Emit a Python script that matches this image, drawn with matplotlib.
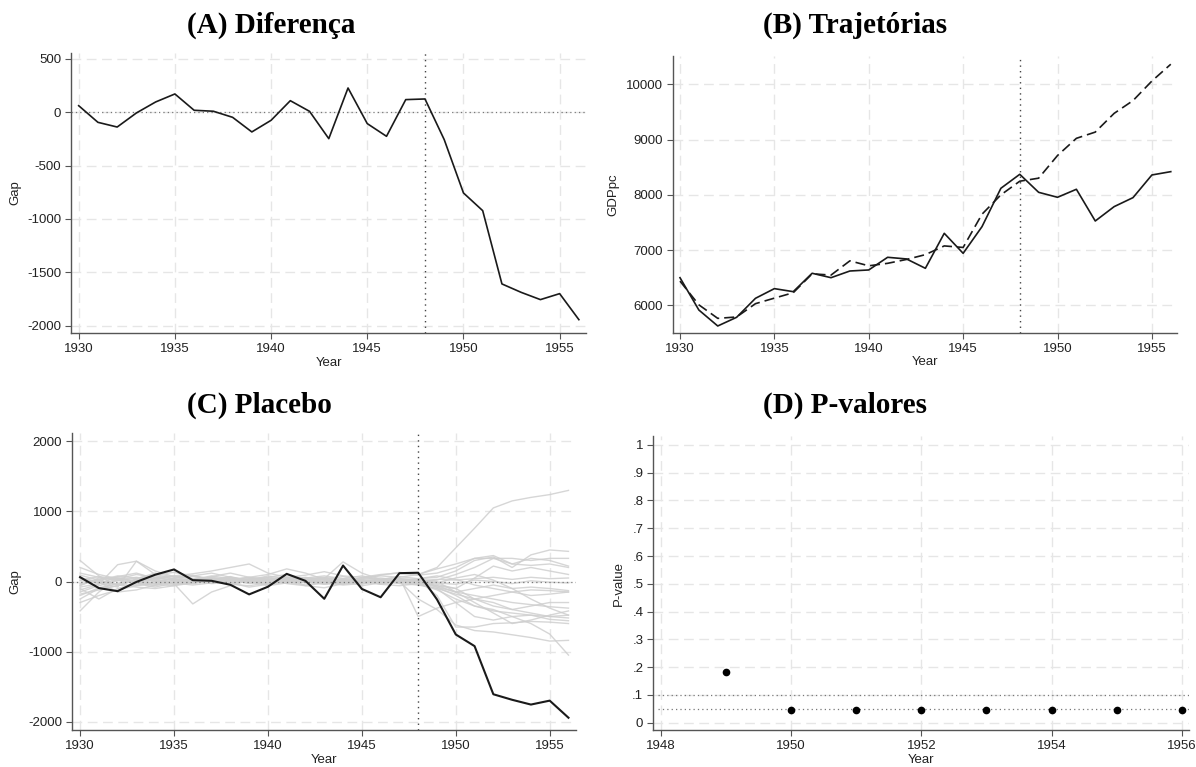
import numpy as np
import matplotlib.pyplot as plt
from matplotlib.ticker import FuncFormatter

plt.rcParams['axes.unicode_minus'] = False

# Annual series, 1930-1956
years = np.arange(1930, 1957)
treat_year = 1948

# GDP per capita: treated unit and its synthetic control
gdppc_treated = [6500, 5915, 5626, 5783, 6127, 6302, 6247, 6580, 6500, 6621,
                 6640, 6869, 6839, 6670, 7303, 6941, 7424, 8118, 8371, 8045,
                 7955, 8100, 7526, 7786, 7949, 8359, 8419]
gdppc_synth = [6438, 6009, 5764, 5789, 6030, 6130, 6228, 6570, 6547, 6805,
               6715, 6760, 6830, 6917, 7075, 7047, 7649, 7999, 8246, 8301,
               8711, 9022, 9135, 9474, 9705, 10059, 10363]

# placebo gaps for the 21 donor units (1930-1948 | 1949-1956)
placebo_gaps = [
    [300, 80, -60, 40, 120, 60, 90, 30, -20, 10, 60, 100, 40, -30, 20, 50, 80, 60, 100,
     200, 480, 760, 1050, 1150, 1200, 1240, 1300],
    [-120, -40, 240, 290, 100, 40, -30, 20, 70, 10, -50, 30, 60, 20, -40, 10, 30, 70, 40,
     60, 150, 300, 350, 200, 380, 450, 430],
    [-60, 50, 20, -20, 50, 80, 110, 150, 200, 250, 120, 60, 90, 140, 80, 60, 100, 120, 90,
     120, 200, 330, 330, 330, 300, 330, 330],
    [40, -20, -80, 290, 150, 70, 40, -10, 30, 60, 100, 180, 120, 30, -20, 40, 90, 130, 100,
     180, 250, 330, 370, 250, 330, 300, 220],
    [-200, -90, -30, 20, 10, -40, -20, 60, 30, -30, 0, 40, 20, -10, 0, 30, 50, 20, 0,
     -60, -100, 50, 220, 150, 200, 150, 100],
    [-420, -150, 40, 100, 60, 20, 10, -30, -10, 20, 40, 10, -20, 30, 10, -10, 20, 0, 10,
     30, 20, 40, 60, 30, 60, 40, 50],
    [120, 60, 20, -30, -80, -20, 30, 50, 20, -10, -30, 10, 50, 20, -10, 20, 0, -20, 10,
     -20, -40, 20, 0, -30, 10, -10, -20],
    [-100, -250, -100, -40, 30, 80, 40, 10, -40, -60, -20, 30, 10, -40, 10, -20, 0, 30, -20,
     -60, -150, -100, -50, -100, -80, -100, -130],
    [60, -30, 70, 120, 40, -30, -320, -150, -60, 20, 80, 40, -60, -90, -30, 60, 20, -30, -50,
     -100, -180, -250, -200, -150, -120, -130, -150],
    [-250, -100, -60, 20, 50, 10, -20, 0, 30, -10, -40, 0, 30, 50, 10, -20, -10, 20, 0,
     -40, -100, -250, -300, -400, -350, -300, -300],
    [20, 70, 40, 10, -30, 50, 70, 30, 10, 40, 20, -30, -60, -20, 40, 20, -30, -10, -20,
     -80, -150, -200, -250, -300, -330, -360, -380],
    [-50, 30, 60, -20, -60, 0, 40, 20, -30, 0, 30, 60, 20, -10, 30, 0, -40, 20, 30,
     0, -150, -300, -450, -600, -550, -480, -420],
    [90, 20, -40, -60, 0, 40, 20, -20, 20, 60, 30, -10, -50, 0, 40, 80, 30, -10, -40,
     -100, -300, -500, -550, -500, -480, -500, -520],
    [-150, -60, 10, 50, 80, 30, 0, 70, 120, 60, 20, -20, 0, 40, 70, 20, -40, -60, -30,
     -120, -250, -350, -420, -450, -480, -540, -560],
    [10, -10, -150, -120, -50, 20, 80, 120, 60, 10, -60, -20, 40, 60, 20, -60, -20, 40, 20,
     -200, -650, -650, -600, -590, -570, -580, -600],
    [-300, -200, -120, -60, -30, -10, 20, 40, 10, -20, 30, 60, 20, 0, -30, -10, 10, 0, -250,
     -400, -620, -700, -720, -760, -800, -850, -840],
    [200, 100, 40, 0, -40, -60, -20, 30, 50, 20, -10, 20, 0, 40, 280, 120, 30, -20, 20,
     -80, -200, -350, -400, -500, -600, -750, -1050],
    [-80, -30, 30, 60, 20, -20, -50, -20, 10, 40, 60, 30, 0, -40, -20, 10, 30, 60, -500,
     -380, -300, -250, -350, -400, -450, -500, -480],
    [-30, 20, 80, 50, 0, -40, -10, 30, 60, 20, -20, 0, 50, 80, 40, 0, -30, 10, 40,
     80, 30, -50, -100, -150, -200, -180, -150],
    [50, 0, -50, -80, -100, -60, 30, 80, 40, 0, 20, 60, 30, -20, -50, -30, 10, 30, 0,
     20, 100, 200, 330, 250, 230, 250, 200],
    [-180, -120, -60, 30, 100, 130, 80, 20, -20, -80, -40, 0, 20, 50, 0, -40, 20, 40, 20,
     -20, 50, 100, 20, -100, -250, -380, -480],
]

# post-treatment p-values
pval_years = [1949, 1950, 1951, 1952, 1953, 1954, 1955, 1956]
pvals = [0.182, 0.045, 0.045, 0.045, 0.045, 0.045, 0.045, 0.045]

gap = np.array(gdppc_treated) - np.array(gdppc_synth)

W, H = 1196, 767
fig = plt.figure(figsize=(W / 100, H / 100), dpi=100)

def add_axes(left, right, top, bottom):
    return fig.add_axes([left / W, 1 - bottom / H, (right - left) / W, (bottom - top) / H])

def style(ax, xticks, yticks, xlim, ylim, ylabel, ylab_x, xlab_y):
    ax.set_xlim(*xlim)
    ax.set_ylim(*ylim)
    ax.set_xticks(xticks)
    ax.set_yticks(yticks)
    for s in ['top', 'right']:
        ax.spines[s].set_visible(False)
    for s in ['left', 'bottom']:
        ax.spines[s].set_color('#555555')
        ax.spines[s].set_linewidth(1.0)
    ax.tick_params(direction='out', length=4, width=0.8, color='#555555',
                   labelcolor='#222222', labelsize=9.5, pad=3)
    for lab in ax.get_xticklabels() + ax.get_yticklabels():
        lab.set_fontfamily('Liberation Sans')
    ax.grid(True, color='#e6e6e6', linestyle=(0, (7, 4)), linewidth=1.0)
    ax.set_axisbelow(True)
    ax.set_xlabel('Year', fontsize=9.5, family='Liberation Sans', color='#222222')
    ax.set_ylabel(ylabel, fontsize=9.5, family='Liberation Sans', color='#222222')
    ax.xaxis.set_label_coords(0.5, xlab_y)
    ax.xaxis.label.set_va('center')
    ax.yaxis.set_label_coords(ylab_x, 0.5)
    ax.yaxis.label.set_va('center')

def title(x, y, text):
    fig.text(x / W, 1 - y / H, text, ha='left', va='baseline', fontsize=21,
             fontweight='bold', family='Liberation Serif')

vline = dict(color='#444444', linestyle=(0, (1, 3)), linewidth=1.0)
hline = dict(color='#777777', linestyle=(0, (1, 2.5)), linewidth=0.9)

# (A) gap between treated and synthetic
axA = add_axes(71, 586, 53, 333)
axA.plot(years, gap, color='#1a1a1a', linewidth=1.2, zorder=3)
axA.axhline(0, **hline)
axA.axvline(treat_year, **vline)
style(axA, range(1930, 1956, 5), range(-2000, 501, 500), (1929.60, 1956.37),
      (-2069, 556), 'Gap', -0.108, -0.106)
title(187, 33, '(A) Diferença')

# (B) treated vs synthetic trajectories
axB = add_axes(673, 1177, 56, 333)
axB.plot(years, gdppc_treated, color='#1a1a1a', linewidth=1.2, zorder=3)
axB.plot(years, gdppc_synth, color='#1a1a1a', linewidth=1.2, linestyle=(0, (6, 3)), zorder=3)
axB.axvline(treat_year, **vline)
style(axB, range(1930, 1956, 5), range(6000, 10001, 1000), (1929.63, 1956.33),
      (5499, 10512), 'GDPpc', -0.118, -0.106)
title(763, 33, '(B) Trajetórias')

# (C) placebo gaps
axC = add_axes(72, 576, 433, 730)
for pg in placebo_gaps:
    axC.plot(years, pg, color='#cfcfcf', linewidth=1.0, alpha=0.85, zorder=2)
axC.plot(years, gap, color='#1a1a1a', linewidth=1.5, zorder=4)
axC.axhline(0, **hline)
axC.axvline(treat_year, **vline)
style(axC, range(1930, 1956, 5), range(-2000, 2001, 1000), (1929.57, 1956.40),
      (-2119, 2119), 'Gap', -0.112, -0.101)
title(187, 413, '(C) Placebo')

# (D) p-values after treatment
axD = add_axes(653, 1189, 436, 730)
axD.axhline(0.1, xmin=0.01, **hline)
axD.axhline(0.05, xmin=0.01, **hline)
axD.plot(pval_years, pvals, 'o', color='black', markersize=4.5, zorder=4)
style(axD, range(1948, 1957, 2), np.arange(0, 1.01, 0.1), (1947.88, 1956.11),
      (-0.026, 1.032), 'P-value', -0.063, -0.101)
axD.yaxis.set_major_formatter(FuncFormatter(
    lambda v, p: '0' if abs(v) < 1e-9 else ('1' if abs(v - 1) < 1e-9 else ('%.1f' % v)[1:])))
for lab in axD.get_yticklabels():
    lab.set_fontfamily('Liberation Sans')
title(763, 413, '(D) P-valores')

fig.savefig('out.png', dpi=100, facecolor='white')
